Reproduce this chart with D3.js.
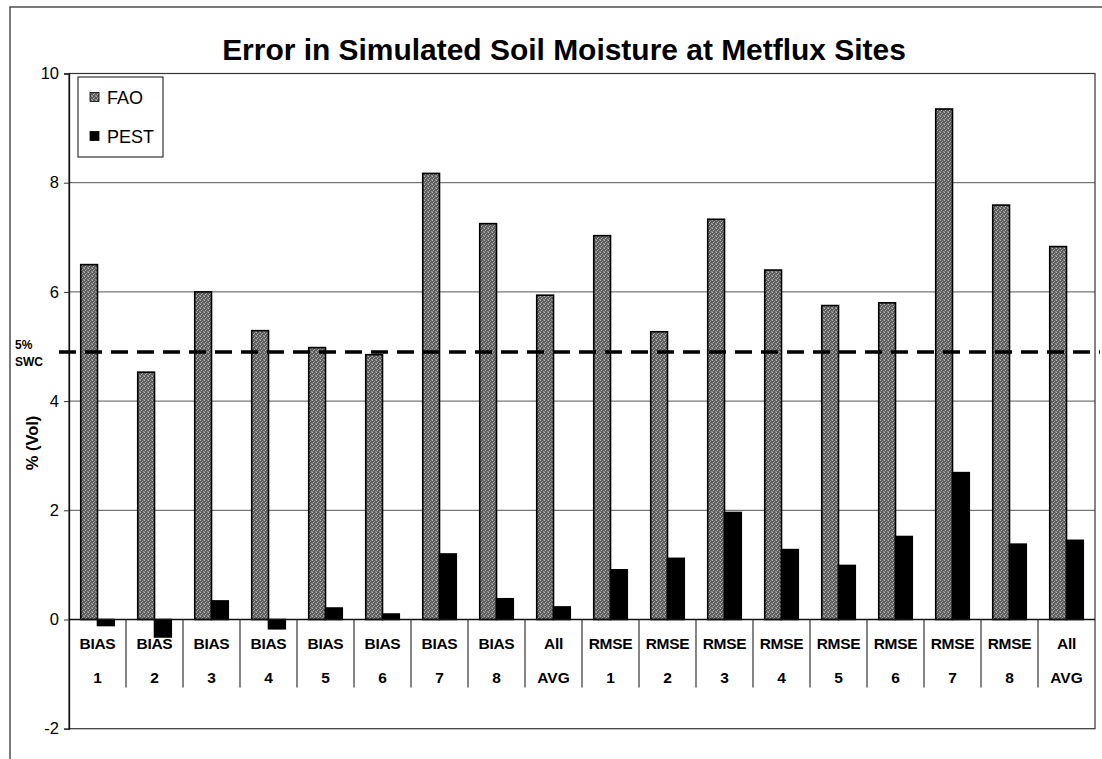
<!DOCTYPE html>
<html lang="en">
<head>
<meta charset="utf-8">
<title>Error in Simulated Soil Moisture</title>
<script src="https://d3js.org/d3.v7.min.js"></script>
<style>
  body { margin: 0; background: #fff; }
  text { font-family: "Liberation Sans", Arial, sans-serif; fill: #000; }
</style>
</head>
<body>
<script>
  // chart data
  var catTop = ["BIAS","BIAS","BIAS","BIAS","BIAS","BIAS","BIAS","BIAS","All",
                "RMSE","RMSE","RMSE","RMSE","RMSE","RMSE","RMSE","RMSE","All"];
  var catBottom = ["1","2","3","4","5","6","7","8","AVG",
                   "1","2","3","4","5","6","7","8","AVG"];
  var seriesNames = ["FAO", "PEST"];
  var fao  = [6.50, 4.53, 6.00, 5.29, 4.98, 4.85, 8.17, 7.25, 5.94,
              7.03, 5.27, 7.33, 6.40, 5.75, 5.80, 9.35, 7.59, 6.83];
  var pest = [-0.11, -0.32, 0.34, -0.17, 0.21, 0.10, 1.20, 0.38, 0.23,
              0.91, 1.12, 1.96, 1.28, 0.99, 1.52, 2.69, 1.38, 1.45];
  var yTicks = [-2, 0, 2, 4, 6, 8, 10];
  var swcLevel = 4.9;

  var width = 1102, height = 759;
  var pLeft = 69, pRight = 1095, pTop = 73.5, pBottom = 728.7;

  var svg = d3.select("body").append("svg")
      .attr("width", width).attr("height", height);

  // stippled grey fill for the FAO bars
  var defs = svg.append("defs");
  var pat = defs.append("pattern").attr("id", "stip")
      .attr("width", 4).attr("height", 4).attr("patternUnits", "userSpaceOnUse");
  pat.append("rect").attr("width", 4).attr("height", 4).attr("fill", "#5a5a5a");
  [[0,0,"#b4b4b4"],[2,1,"#a0a0a0"],[1,2,"#bcbcbc"],[3,3,"#989898"],[3,0,"#7a7a7a"],[0,3,"#888"]]
    .forEach(function(p){
      pat.append("rect").attr("x", p[0]).attr("y", p[1]).attr("width", 1).attr("height", 1).attr("fill", p[2]);
    });

  // outer frame
  svg.append("rect").attr("x", 10).attr("y", 7).attr("width", 1100).attr("height", 760)
      .attr("fill", "none").attr("stroke", "#222").attr("stroke-width", 1.2);

  var idx = d3.range(fao.length);
  var x = d3.scaleBand().domain(idx).range([pLeft, pRight]).padding(0);
  var xs = d3.scaleBand().domain(seriesNames).range([0, x.bandwidth()])
      .paddingInner(0).paddingOuter(0.7);
  var y = d3.scaleLinear().domain([-2, 10]).range([pBottom, pTop]);

  // gridlines
  svg.append("g").selectAll("line").data(yTicks.filter(function(d){ return d > 0 && d < 10; }))
    .enter().append("line")
      .attr("x1", pLeft).attr("x2", pRight)
      .attr("y1", function(d){ return y(d); }).attr("y2", function(d){ return y(d); })
      .attr("stroke", "#555").attr("stroke-width", 1);

  // plot border
  svg.append("rect").attr("x", pLeft).attr("y", y(10))
      .attr("width", pRight - pLeft).attr("height", y(-2) - y(10))
      .attr("fill", "none").attr("stroke", "#333").attr("stroke-width", 1.2);

  // y axis
  var yAxis = d3.axisLeft(y).tickValues(yTicks).tickSize(5).tickPadding(5)
      .tickFormat(function(d){ return String(d); });
  var ga = svg.append("g").attr("transform", "translate(" + pLeft + ",0)").call(yAxis);
  ga.select(".domain").attr("stroke", "#111").attr("stroke-width", 1.3);
  ga.selectAll(".tick line").attr("stroke", "#333");
  ga.selectAll(".tick text").attr("font-family", "Liberation Sans, Arial, sans-serif")
      .attr("font-size", 16.5).attr("fill", "#000");

  // bars
  var seriesData = [fao, pest];
  var fills = ["url(#stip)", "#000"];
  seriesNames.forEach(function(s, si) {
    svg.append("g").selectAll("rect").data(idx).enter().append("rect")
      .attr("x", function(i){ return x(i) + xs(s); })
      .attr("width", xs.bandwidth())
      .attr("y", function(i){ return y(Math.max(0, seriesData[si][i])); })
      .attr("height", function(i){ return Math.abs(y(seriesData[si][i]) - y(0)); })
      .attr("fill", fills[si])
      .attr("stroke", "#000").attr("stroke-width", 1.6);
  });

  // zero line
  svg.append("line").attr("x1", pLeft).attr("x2", pRight)
      .attr("y1", y(0)).attr("y2", y(0)).attr("stroke", "#111").attr("stroke-width", 1.3);

  // category separators and labels
  var sepX = d3.range(fao.length + 1).map(function(i){ return pLeft + i * x.step(); });
  svg.append("g").selectAll("line").data(sepX.slice(1, -1)).enter().append("line")
      .attr("x1", function(d){ return d; }).attr("x2", function(d){ return d; })
      .attr("y1", y(0)).attr("y2", y(0) + 68)
      .attr("stroke", "#333").attr("stroke-width", 1.2);

  var lab = svg.append("g");
  lab.selectAll("text.top").data(idx).enter().append("text")
      .attr("class", "top")
      .attr("x", function(i){ return x(i) + x.bandwidth() / 2; })
      .attr("y", y(0) + 29)
      .attr("text-anchor", "middle").attr("font-weight", "bold").attr("font-size", 15.5)
      .attr("letter-spacing", -0.3)
      .text(function(i){ return catTop[i]; });
  lab.selectAll("text.bot").data(idx).enter().append("text")
      .attr("class", "bot")
      .attr("x", function(i){ return x(i) + x.bandwidth() / 2; })
      .attr("y", y(0) + 63)
      .attr("text-anchor", "middle").attr("font-weight", "bold").attr("font-size", 15.5)
      .text(function(i){ return catBottom[i]; });

  // 5% SWC dashed line
  svg.append("line").attr("x1", 59).attr("x2", 1100)
      .attr("y1", y(swcLevel)).attr("y2", y(swcLevel))
      .attr("stroke", "#000").attr("stroke-width", 3.5).attr("stroke-dasharray", "17,9");
  svg.append("text").attr("x", 15).attr("y", y(swcLevel) - 3)
      .attr("font-size", 12).attr("font-weight", "bold").text("5%");
  svg.append("text").attr("x", 15).attr("y", y(swcLevel) + 14)
      .attr("font-size", 12).attr("font-weight", "bold").text("SWC");

  // y label
  svg.append("text").attr("transform", "translate(38," + 443 + ") rotate(-90)")
      .attr("text-anchor", "middle").attr("font-size", 16.5).attr("font-weight", "bold")
      .text("% (Vol)");

  // title
  var title = svg.append("text").attr("x", 564).attr("y", 60)
      .attr("text-anchor", "middle").attr("font-weight", "bold").attr("font-size", 27)
      .text("Error in Simulated Soil Moisture at Metflux Sites");
  var tw = title.node().getComputedTextLength();
  title.attr("font-size", 27 * 684 / tw);

  // legend
  var lg = svg.append("g");
  lg.append("rect").attr("x", 78).attr("y", 77).attr("width", 85).attr("height", 80)
      .attr("fill", "#fff").attr("stroke", "#333").attr("stroke-width", 1.2);
  seriesNames.forEach(function(s, si) {
    var cy = 97 + si * 39;
    lg.append("rect").attr("x", 90).attr("y", cy - 4.5).attr("width", 9).attr("height", 9)
        .attr("fill", fills[si]).attr("stroke", "#000").attr("stroke-width", 0.8);
    lg.append("text").attr("x", 107).attr("y", cy + 6.5)
        .attr("font-size", 18).text(s);
  });
</script>
</body>
</html>
